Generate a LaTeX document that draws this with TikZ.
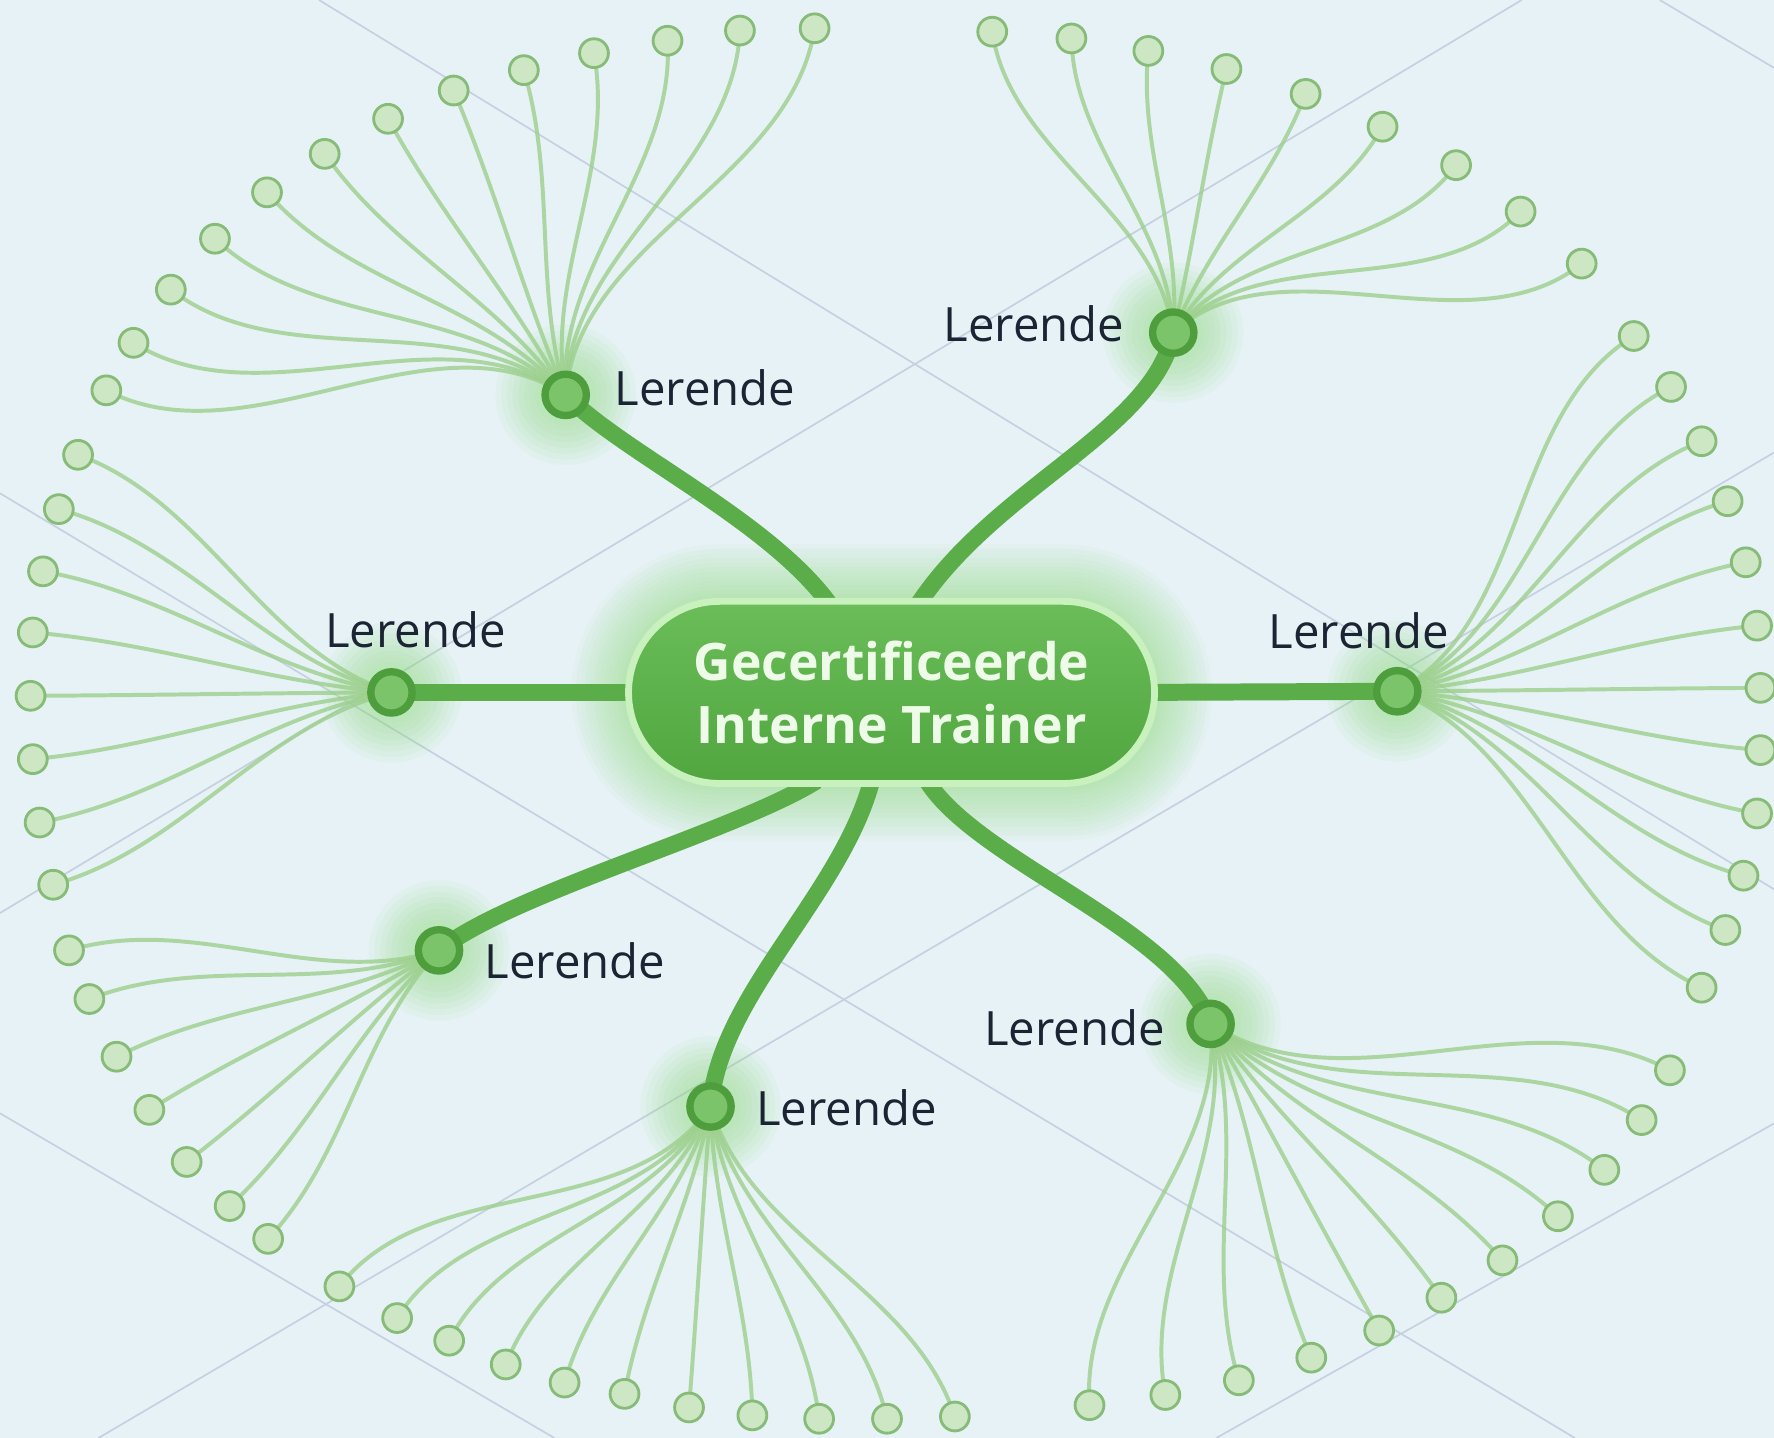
\documentclass[tikz,border=0pt]{standalone}
\usepackage{fontspec}
\setmainfont{Open Sans}[Ligatures=NoCommon]
\usetikzlibrary{calc}
\definecolor{bgc}{HTML}{E7F2F7}
\definecolor{gridc}{HTML}{C5D1E0}
\definecolor{branchc}{HTML}{5AAD48}
\definecolor{twigc}{HTML}{9CCF8C}
\definecolor{leaffill}{HTML}{CDE6C4}
\definecolor{leafdraw}{HTML}{86BC77}
\definecolor{hubfill}{HTML}{7CC46A}
\definecolor{hubdraw}{HTML}{4E9E3D}
\definecolor{glowc}{HTML}{8EDC7A}
\definecolor{nodetop}{HTML}{6ABD58}
\definecolor{nodebot}{HTML}{51A640}
\definecolor{nodeborder}{HTML}{C9F1BE}
\definecolor{ctrtext}{HTML}{EEFBE8}
\definecolor{labelc}{HTML}{1B2433}
\pgfdeclarelayer{bgl}
\pgfdeclarelayer{twiglayer}
\pgfsetlayers{bgl,twiglayer,main}
\tikzset{
  leaf/.style={circle, fill=leaffill, draw=leafdraw, line width=0.05cm, minimum size=0.51cm, inner sep=0},
  hub/.style={circle, fill=hubfill, draw=hubdraw, line width=0.13cm, minimum size=0.73cm, inner sep=0},
  twig/.style={draw=twigc, line width=0.07cm, opacity=0.8, line cap=round},
  branch/.style={draw=branchc, line width=0.3cm},
  gridline/.style={draw=gridc, line width=0.03cm},
  lbl/.style={text=labelc, inner sep=0, font=\fontsize{23.8}{28}\selectfont},
  centre/.style={rounded corners=1.61cm, minimum width=9.3cm, minimum height=3.22cm,
    top color=nodetop, bottom color=nodebot, draw=nodeborder, line width=0.12cm,
    text=ctrtext, align=center, font=\fontsize{26}{31.8}\selectfont\bfseries, inner sep=0},
}
% #1 hub name, #2 hub x, #3 hub y, #4 bundle axis (screen degrees), #5 leaves x/y
\newcommand\fan[5]{%
  \coordinate (#1-back) at ($(#1.center)+(#4+180:300)$);
  \foreach \lx/\ly [count=\k] in {#5} {
    \node[leaf] (#1-\k) at (\lx,\ly) {};
    \pgfmathsetmacro\fang{atan2(\ly-#3,\lx-#2)}
    \pgfmathsetmacro\fdd{mod(\fang-#4+540,360)-180}
    \pgfmathsetmacro\fex{#4+0.5*\fdd}
    \pgfmathsetmacro\flen{veclen(\lx-#2,\ly-#3)}
    \pgfmathsetmacro\fra{0.35*\flen}
    \pgfmathsetmacro\fdist{0.35*\flen*0.02}
    \begin{pgfonlayer}{twiglayer}
      \draw[twig] (#1.center) .. controls ($(#1.center)+(\fex:\fra)$) and ($(#1-\k.center)!\fdist cm!(#1-back)$) .. (#1-\k.center);
    \end{pgfonlayer}
  }%
}
\begin{document}
\begin{tikzpicture}[x=0.02cm, y=-0.02cm]
\useasboundingbox (0,0) rectangle (1568,1271);
\begin{pgfonlayer}{bgl}
  \fill[bgc] (0,0) rectangle (1568,1271);
  \draw[gridline] (0,436) -- (1392,1271);
  \draw[gridline] (282,0) -- (1568,786);
  \draw[gridline] (0,984) -- (490,1271);
  \draw[gridline] (1467,0) -- (1568,60);
  \draw[gridline] (0,807) -- (1345,0);
  \draw[gridline] (87,1271) -- (1568,400);
  \draw[gridline] (1075,1271) -- (1568,993);
\end{pgfonlayer}

\node[centre] (ctr) at (788,612) {Gecertificeerde\\Interne Trainer};

\node[hub] (TL) at (500,349) {};
\node[hub] (TR) at (1037,294) {};
\node[hub] (R) at (1235,611) {};
\node[hub] (L) at (346,612) {};
\node[hub] (BL) at (388,840) {};
\node[hub] (B) at (628,978) {};
\node[hub] (BR) at (1070,905) {};

\begin{pgfonlayer}{bgl}
  \foreach \d in {3,7,...,47} {
    \pgfmathsetmacro\rc{(84+\d)*0.02}
    \fill[glowc, opacity=0.05, rounded corners=\rc cm] ($(ctr)+(-236-\d,-84-\d)$) rectangle ($(ctr)+(236+\d,84+\d)$);
  }
  \foreach \h in {TL,TR,R,L,BL,B,BR} {
    \foreach \r in {22,27,...,62} {
      \fill[glowc, opacity=0.075] (\h) circle[radius=\r*0.02cm];
    }
  }
\end{pgfonlayer}

\coordinate (aTL) at (734,535);
\coordinate (aTR) at (811,535);
\coordinate (aL) at (565,612);
\coordinate (aR) at (1012,612);
\coordinate (aBL) at (722,690);
\coordinate (aB) at (771,688);
\coordinate (aBR) at (818,688);

\begin{pgfonlayer}{twiglayer}
  \draw[branch] (TL.center) .. controls (550,400) and (680,460) .. (aTL);
  \draw[branch] (TR.center) .. controls (1020,380) and (880,430) .. (aTR);
  \draw[branch] (L.center) -- (aL);
  \draw[branch] (aR) -- (R.center);
  \draw[branch] (aBL) .. controls (650,735) and (450,790) .. (BL.center);
  \draw[branch] (aB) .. controls (745,790) and (635,880) .. (B.center);
  \draw[branch] (aBR) .. controls (860,760) and (1040,820) .. (BR.center);
\end{pgfonlayer}

\fan{TL}{500}{349}{245}{720/25, 654/27, 590/36, 525/47, 463/62, 401/80, 343/105, 287/136, 236/170, 190/211, 151/256, 118/303, 94/345}
\fan{TR}{1037}{294}{285}{877/28, 947/34, 1015/45, 1084/61, 1154/83, 1222/112, 1287/146, 1344/187, 1398/233}
\fan{R}{1235}{611}{0}{1444/297, 1477/342, 1504/390, 1527/443, 1543/497, 1553/553, 1556/608, 1556/663, 1553/719, 1541/774, 1525/822, 1504/873}
\fan{L}{346}{612}{180}{69/402, 52/450, 38/505, 29/559, 27/615, 29/671, 35/727, 47/782}
\fan{BL}{388}{840}{145}{61/840, 79/883, 103/934, 132/981, 165/1027, 203/1066, 237/1095}
\fan{B}{628}{978}{95}{300/1137, 351/1165, 397/1185, 447/1206, 499/1222, 552/1232, 609/1244, 665/1251, 724/1254, 784/1254, 844/1252}
\fan{BR}{1070}{905}{60}{1476/946, 1451/990, 1418/1034, 1377/1075, 1328/1114, 1274/1147, 1219/1176, 1159/1200, 1095/1220, 1030/1233, 963/1242}

\node[lbl, anchor=base west] (lTL) at (543,358) {Lerende};
\node[lbl, anchor=base east] (lTR) at (994,302) {Lerende};
\node[lbl, anchor=base west] (lL) at (287,572) {Lerende};
\node[lbl, anchor=base west] (lR) at (1121,573) {Lerende};
\node[lbl, anchor=base west] (lBL) at (428,865) {Lerende};
\node[lbl, anchor=base west] (lB) at (668,995) {Lerende};
\node[lbl, anchor=base east] (lBR) at (1030,924) {Lerende};
\end{tikzpicture}
\end{document}
